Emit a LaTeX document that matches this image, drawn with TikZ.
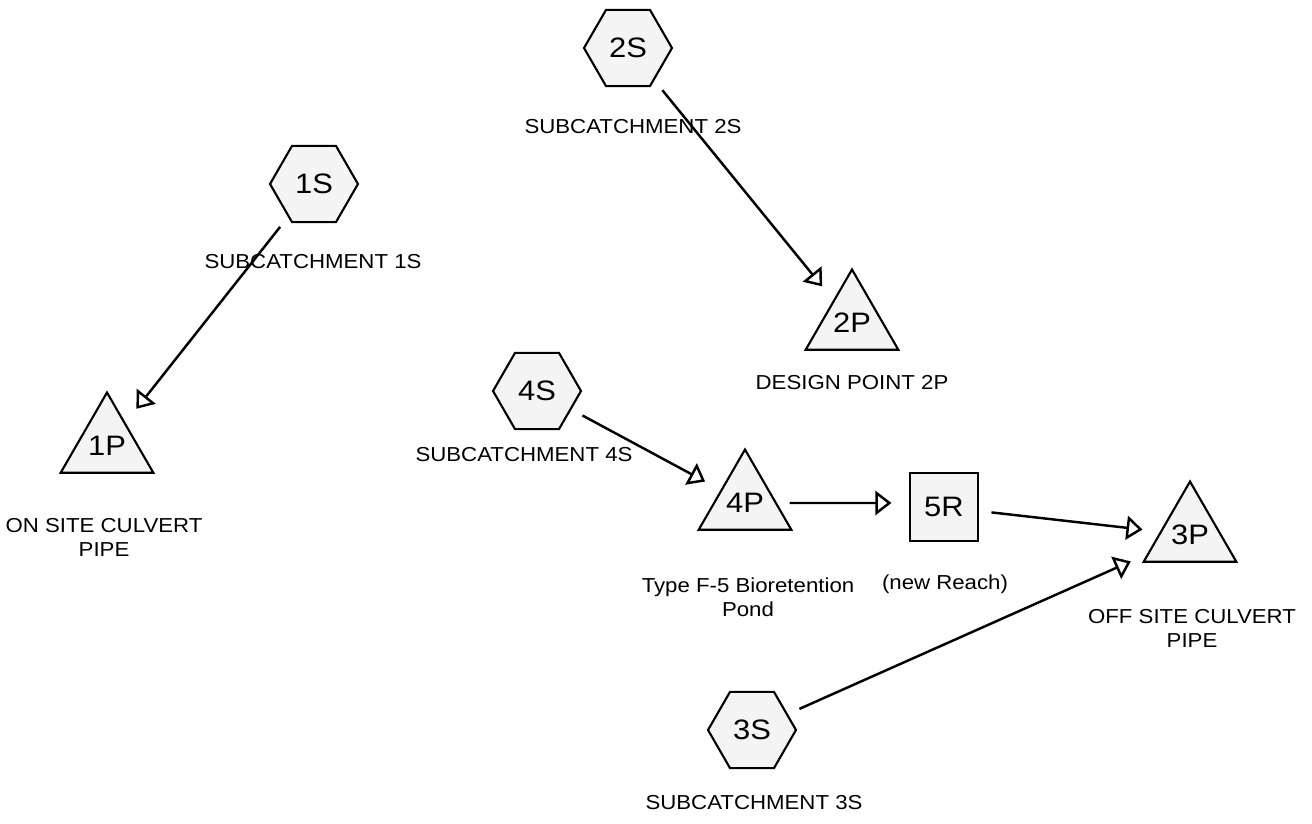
\documentclass[tikz,border=0pt]{standalone}
\usepackage{fontspec}
\setmainfont{Liberation Sans}[FakeStretch=1.1]
\usepackage{tikz}
\usetikzlibrary{arrows.meta,positioning,shapes.geometric}
\definecolor{shadex}{HTML}{F4F4F4}
\newcommand{\idfont}{\fontsize{16}{18}\selectfont}
\newcommand{\lblfont}{\fontsize{11.5}{13.7}\selectfont}
\tikzset{
  hexs/.style={regular polygon,regular polygon sides=6,minimum size=1.76cm,inner sep=0pt,draw=black,line width=1.2pt,fill=shadex,font=\idfont},
  tri/.style={regular polygon,regular polygon sides=3,minimum size=2.03cm,inner sep=0pt,draw=black,line width=1.2pt,fill=shadex,font=\idfont},
  reach/.style={rectangle,minimum size=1.36cm,inner sep=0pt,draw=black,line width=1.2pt,fill=shadex,font=\idfont},
  lbl/.style={align=center,inner sep=0pt,font=\lblfont},
  flow/.style={-{Triangle[open,length=0.32cm,width=0.48cm]},line width=1.4pt,shorten <=0.25cm,shorten >=0.35cm}
}
\begin{document}
\begin{tikzpicture}[x=0.02cm,y=-0.02cm]
\fill[white] (0,0) rectangle (1312,824);
\useasboundingbox (0,0) rectangle (1312,824);
% subcatchments
\node[hexs] (2S) at (628,48) {2S};
\node[hexs] (1S) at (314,184) {1S};
\node[hexs] (4S) at (537,391) {4S};
\node[hexs] (3S) at (752,730) {3S};
% ponds and reach
\node[tri] (1P) at (107,446) {1P};
\node[tri] (2P) at (852,323) {2P};
\node[tri] (4P) at (745,503) {4P};
\node[tri] (3P) at (1190,535) {3P};
\node[reach] (5R) at (944,507) {5R};
% labels
\node[lbl] (l2S) at (633,127) {SUBCATCHMENT 2S};
\node[lbl] (l1S) at (313,262) {SUBCATCHMENT 1S};
\node[lbl] (l2P) at (852,383) {DESIGN POINT 2P};
\node[lbl] (l4S) at (524,455) {SUBCATCHMENT 4S};
\node[lbl] (l1P) at (104,537) {ON SITE CULVERT\\PIPE};
\node[lbl] (l4P) at (748,597) {Type F-5 Bioretention\\Pond};
\node[lbl] (l5R) at (945,584) {(new Reach)};
\node[lbl] (l3P) at (1192,628) {OFF SITE CULVERT\\PIPE};
\node[lbl] (l3S) at (754,803) {SUBCATCHMENT 3S};
% routing
\draw[flow] (1S) -- (1P);
\draw[flow] (2S) -- (2P);
\draw[flow] (4S) -- (4P);
\draw[flow] (4P) -- (4P -| 5R.west);
\draw[flow] (5R) -- (3P);
\draw[flow] (3S) -- (3P);
\end{tikzpicture}
\end{document}
